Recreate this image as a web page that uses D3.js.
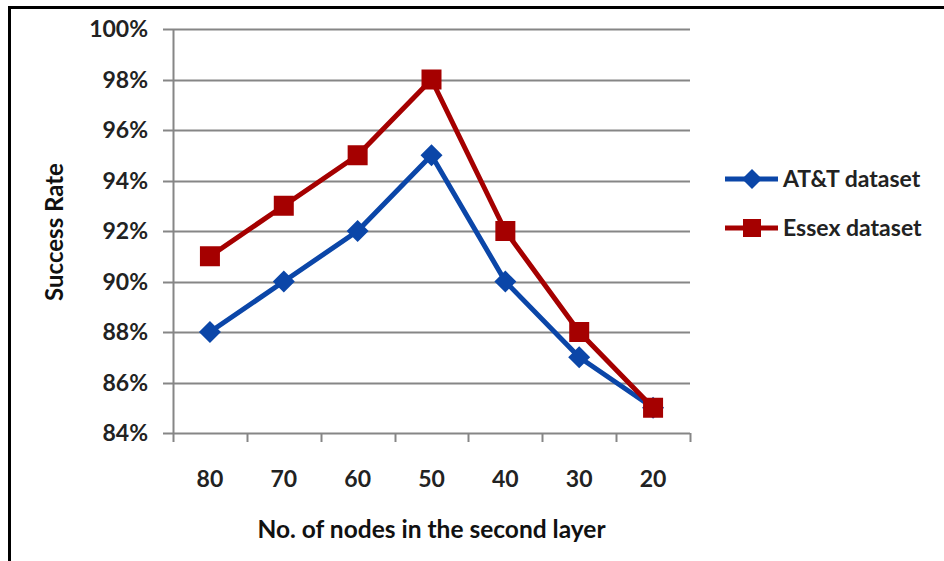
<!DOCTYPE html>
<html>
<head>
<meta charset="utf-8">
<script src="https://cdn.jsdelivr.net/npm/d3@7"></script>
<style>
  body { margin: 0; background: #fff; }
  svg { display: block; font-family: Lato, "Open Sans", sans-serif; }
</style>
</head>
<body>
<svg></svg>
<script>
const categories = ['80', '70', '60', '50', '40', '30', '20'];
const attValues = [88, 90, 92, 95, 90, 87, 85];
const essexValues = [91, 93, 95, 98, 92, 88, 85];
const yTicks = [84, 86, 88, 90, 92, 94, 96, 98, 100];

const width = 944;
const height = 561;
const plotLeft = 173, plotRight = 690, plotTop = 29, plotBottom = 433;

const series = [
    { name: 'AT&T dataset', values: attValues, color: '#0B46A8', marker: 'diamond' },
    { name: 'Essex dataset', values: essexValues, color: '#A50000', marker: 'square' }
];

var svg = d3.select('svg')
    .attr('width', width)
    .attr('height', height);

// outer frame (only left and top visible)
svg.append('path')
    .attr('d', 'M9.5,' + height + 'V7.5H' + width)
    .attr('fill', 'none')
    .attr('stroke', '#000')
    .attr('stroke-width', 3);

const xScale = d3.scaleBand()
    .domain(categories)
    .range([plotLeft, plotRight]);

const yScale = d3.scaleLinear()
    .domain([84, 100])
    .range([plotBottom, plotTop]);

// gridlines + y ticks
svg.append('g')
    .selectAll('line')
    .data(yTicks)
    .enter()
    .append('line')
    .attr('x1', plotLeft - 10)
    .attr('x2', plotRight)
    .attr('y1', d => Math.round(yScale(d)) + 0.5)
    .attr('y2', d => Math.round(yScale(d)) + 0.5)
    .attr('stroke', '#868686')
    .attr('stroke-width', 2);

svg.append('g')
    .selectAll('text')
    .data(yTicks)
    .enter()
    .append('text')
    .attr('x', 148)
    .attr('y', d => yScale(d))
    .attr('dy', '0.35em')
    .attr('text-anchor', 'end')
    .style('font-size', '23px')
    .style('font-weight', 'bold')
    .style('fill', '#222')
    .text(d => d + '%');

// y axis line
svg.append('line')
    .attr('x1', plotLeft + 0.5).attr('x2', plotLeft + 0.5)
    .attr('y1', plotTop).attr('y2', plotBottom + 9)
    .attr('stroke', '#868686')
    .attr('stroke-width', 2);

// x axis ticks at band boundaries
const xBounds = categories.map(c => xScale(c)).concat([plotRight]);
svg.append('g')
    .selectAll('line')
    .data(xBounds.slice(1))
    .enter()
    .append('line')
    .attr('x1', d => Math.round(d) + 0.5)
    .attr('x2', d => Math.round(d) + 0.5)
    .attr('y1', plotBottom)
    .attr('y2', plotBottom + 9)
    .attr('stroke', '#868686')
    .attr('stroke-width', 2);

svg.append('g')
    .selectAll('text')
    .data(categories)
    .enter()
    .append('text')
    .attr('x', d => xScale(d) + xScale.bandwidth() / 2)
    .attr('y', 479)
    .attr('dy', '0.35em')
    .attr('text-anchor', 'middle')
    .style('font-size', '23px')
    .style('font-weight', 'bold')
    .style('fill', '#222')
    .text(d => d);

const line = d3.line()
    .x((d, i) => xScale(categories[i]) + xScale.bandwidth() / 2)
    .y(d => yScale(d));

function drawMarker(g, type, color, r) {
    if (type === 'square') {
        g.append('rect')
            .attr('x', -r).attr('y', -r)
            .attr('width', 2 * r).attr('height', 2 * r)
            .attr('fill', color);
    } else {
        r = r + 1;
        g.append('path')
            .attr('d', 'M0,' + (-r) + 'L' + r + ',0L0,' + r + 'L' + (-r) + ',0Z')
            .attr('fill', color);
    }
}

series.forEach(s => {
    svg.append('path')
        .datum(s.values)
        .attr('d', line)
        .attr('fill', 'none')
        .attr('stroke', s.color)
        .attr('stroke-width', 5)
        .attr('stroke-linejoin', 'round');

    s.values.forEach((v, i) => {
        const g = svg.append('g')
            .attr('transform', 'translate(' + (xScale(categories[i]) + xScale.bandwidth() / 2) + ',' + yScale(v) + ')');
        drawMarker(g, s.marker, s.color, 10);
    });
});

// legend
let legend = svg.selectAll('.legend')
    .data(series)
    .enter().append('g')
    .attr('class', 'legend')
    .attr('transform', (d, i) => 'translate(725,' + (179 + i * 49) + ')');

legend.append('line')
    .attr('x1', 0).attr('x2', 53)
    .attr('stroke', d => d.color)
    .attr('stroke-width', 5);

legend.each(function (d) {
    const g = d3.select(this).append('g').attr('transform', 'translate(27,0)');
    drawMarker(g, d.marker, d.color, 9);
});

legend.append('text')
    .attr('x', 58)
    .attr('dy', '0.35em')
    .style('font-size', '23px')
    .style('font-weight', 'bold')
    .style('fill', '#222')
    .text(d => d.name);

// axis titles
svg.append('text')
    .attr('x', (plotLeft + plotRight) / 2)
    .attr('y', 529)
    .attr('dy', '0.35em')
    .attr('text-anchor', 'middle')
    .style('font-size', '24.5px')
    .style('font-weight', 'bold')
    .style('fill', '#111')
    .text('No. of nodes in the second layer');

svg.append('text')
    .attr('transform', 'translate(55,' + 232 + ') rotate(-90)')
    .attr('dy', '0.35em')
    .attr('text-anchor', 'middle')
    .style('font-size', '24px')
    .style('font-weight', 'bold')
    .style('fill', '#111')
    .text('Success Rate');
</script>
</body>
</html>
